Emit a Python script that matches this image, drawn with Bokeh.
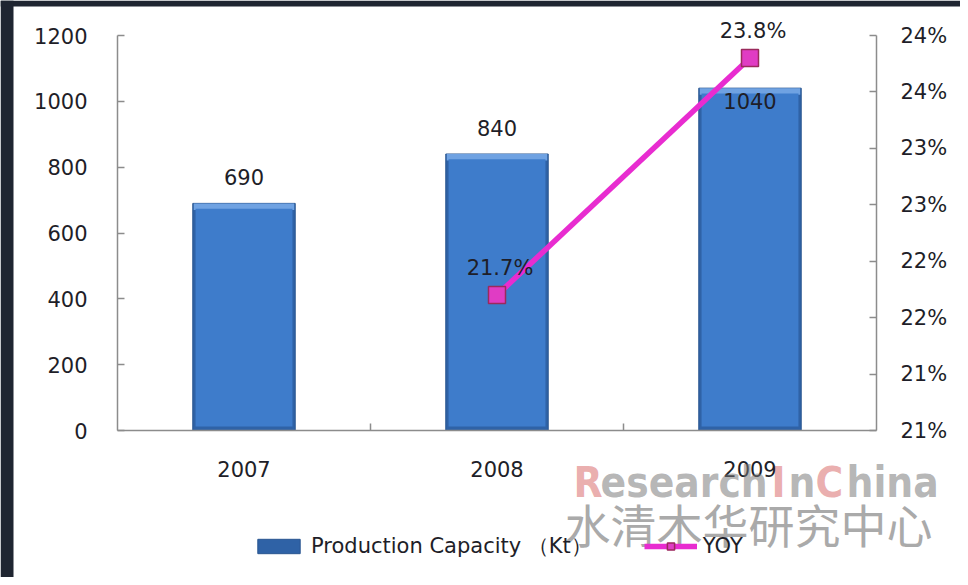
import math
from bokeh.plotting import figure
from bokeh.models import (Range1d, LinearAxis, FixedTicker, Legend, LegendItem, Label)
from bokeh.core.properties import value
from bokeh.embed import file_html
from bokeh.resources import INLINE

# ---------------- data ----------------
YEARS = ["2007", "2008", "2009"]
CAPACITY = [690, 840, 1040]                 # Production Capacity (Kt)
YOY = [float("nan"), 21.7, 23.8]            # YOY growth, %
LEFT_TICKS = [0, 200, 400, 600, 800, 1000, 1200]
RIGHT_TICK_VALUES = [20.5, 21.0, 21.5, 22.0, 22.5, 23.0, 23.5, 24.0]
RIGHT_TICK_LABELS = ["21%", "21%", "22%", "22%", "23%", "23%", "24%", "24%"]
BAR_NAME = "Production Capacity （Kt）"
LINE_NAME = "YOY"
WATERMARK = [("R", "pink"), ("esearch", "gray"), ("I", "pink"), ("n", "gray"),
             ("C", "pink"), ("hina", "gray")]
WATERMARK_CN = "水清木华研究中心"

FONT = "DejaVu Sans"
FS = "21px"
TXT = "#1e1e28"
AXC = "#8c8c8c"

# ---------------- layout (pixels) ----------------
W, H = 960, 577
FR_L, FR_R = 117, 876        # plot area left / right
AX_TOP, AX_BOT = 35, 430     # where the axes' value ranges end
L_MAX = LEFT_TICKS[-1]
R_MIN, R_MAX = RIGHT_TICK_VALUES[0], RIGHT_TICK_VALUES[-1]
N = len(YEARS)
xpx = (FR_R - FR_L) / N                       # px per category
lpx = (AX_BOT - AX_TOP) / L_MAX               # px per left unit
rpx = (AX_BOT - AX_TOP) / (R_MAX - R_MIN)     # px per right unit


def px_to_x(px):
    return -0.5 + (px - FR_L) / xpx


def py_to_y(py):
    return (AX_BOT - py) / lpx


xs = list(range(N))

p = figure(width=W, height=H, output_backend="svg", toolbar_location=None,
           x_range=Range1d(px_to_x(0), px_to_x(W)),
           y_range=Range1d(py_to_y(H), py_to_y(0)),
           min_border_left=0, min_border_right=0, min_border_top=0,
           min_border_bottom=0)
p.outline_line_color = None
p.background_fill_color = "white"
p.border_fill_color = "white"
p.xgrid.visible = False
p.ygrid.visible = False

# dark frame of the screenshot (top and left edges only)
DARK = "#1f2531"
p.quad(left=[px_to_x(0), px_to_x(0)], right=[px_to_x(W), px_to_x(13)],
       top=[py_to_y(0), py_to_y(0)], bottom=[py_to_y(6), py_to_y(H)],
       fill_color=DARK, line_color=None, level="underlay")

# ---- left axis ----
ya = p.yaxis[0]
ya.fixed_location = -0.5
ya.ticker = FixedTicker(ticks=LEFT_TICKS)
ya.bounds = (0, L_MAX)
ya.major_tick_in = 7
ya.major_tick_out = 0
ya.minor_tick_line_color = None
ya.major_label_standoff = 30

# ---- right axis ----
p.extra_y_ranges = {"yoy": Range1d(R_MIN - (H - AX_BOT) / rpx, R_MAX + AX_TOP / rpx)}
ra = LinearAxis(y_range_name="yoy",
                ticker=FixedTicker(ticks=RIGHT_TICK_VALUES),
                major_label_overrides={v: l for v, l in zip(RIGHT_TICK_VALUES, RIGHT_TICK_LABELS)})
ra.fixed_location = N - 0.5
ra.bounds = (R_MIN, R_MAX)
ra.major_tick_in = 7
ra.major_tick_out = 0
ra.minor_tick_line_color = None
ra.major_label_standoff = 24
p.add_layout(ra, "right")

# ---- x axis (drawn at value 0) ----
xa = p.xaxis[0]
xa.fixed_location = 0
xa.bounds = (-0.5, N - 0.5)
xa.ticker = FixedTicker(ticks=xs, minor_ticks=[i + 0.5 for i in xs[:-1]])
xa.major_label_overrides = {i: y for i, y in zip(xs, YEARS)}
xa.major_tick_in = 0
xa.major_tick_out = 0
xa.minor_tick_in = 7
xa.minor_tick_out = 0
xa.major_label_standoff = 30

for ax in (ya, ra, xa):
    ax.axis_line_color = AXC
    ax.axis_line_width = 1.5
    ax.major_tick_line_color = AXC
    ax.major_tick_line_width = 1.5
    ax.major_label_text_font = FONT
    ax.major_label_text_font_size = FS
    ax.major_label_text_color = TXT
xa.minor_tick_line_color = AXC
xa.minor_tick_line_width = 1.5

# ---- bars (bevelled look) ----
BW = 0.405
bars = p.vbar(x=xs, top=CAPACITY, bottom=0, width=BW,
              fill_color="#2f62a6", line_color="#2a5690", line_width=1)
p.vbar(x=xs, top=CAPACITY, bottom=[c - 20 for c in CAPACITY], width=BW - 0.008,
       fill_color="#6fa2e2", line_color=None)
p.vbar(x=xs, top=[c - 16 for c in CAPACITY], bottom=12, width=BW - 0.022,
       fill_color="#3e7ccb", line_color=None)

# bar value labels
inside = [c > 0.85 * L_MAX for c in CAPACITY]
p.text(x=xs, y=CAPACITY, text=[str(c) for c in CAPACITY],
       y_offset=[13 if f else -26 for f in inside],
       text_align="center", text_baseline="middle",
       text_font=value(FONT), text_font_size=FS, text_color=TXT)

# ---- YOY line ----
line = p.line(x=xs, y=YOY, y_range_name="yoy", line_color="#e82cd0", line_width=5.5)
marks = p.scatter(x=xs, y=YOY, y_range_name="yoy", marker="square", size=17,
                  fill_color="#e03cc4", line_color="#9a2a5c", line_width=1.5)
yoy_x = [x for x, v in zip(xs, YOY) if not math.isnan(v)]
yoy_v = [v for v in YOY if not math.isnan(v)]
p.text(x=yoy_x, y=yoy_v, text=[f"{v}%" for v in yoy_v], y_range_name="yoy",
       y_offset=-27, x_offset=3, text_align="center", text_baseline="middle",
       text_font=value(FONT), text_font_size=FS, text_color=TXT)

# ---- watermark ----
wm_left = [573, 600, 771, 788, 815, 846]
for (seg, kind), left in zip(WATERMARK, wm_left):
    p.add_layout(Label(x=px_to_x(left), y=py_to_y(482), text=seg,
                       text_font="DejaVu Sans Condensed, DejaVu Sans",
                       text_font_style="bold",
                       text_font_size="42px", text_align="left", text_baseline="alphabetic",
                       text_color="#d86a6a" if kind == "pink" else "#787878",
                       text_alpha=0.55))
p.add_layout(Label(x=px_to_x(564), y=py_to_y(522), text=WATERMARK_CN,
                   text_font="Noto Sans CJK SC", text_font_size="46px",
                   text_align="left", text_baseline="middle",
                   text_color="#aaaaaa"))

# ---- legend ----
legend = Legend(items=[LegendItem(label=BAR_NAME, renderers=[bars]),
                       LegendItem(label=LINE_NAME, renderers=[line, marks])],
                orientation="horizontal", location=(252, H - 560),
                glyph_width=53, glyph_height=18, label_standoff=6, spacing=52,
                padding=0, margin=0, background_fill_alpha=0,
                border_line_color=None,
                label_text_font=FONT, label_text_font_size=FS,
                label_text_color=TXT)
p.add_layout(legend)

open("out.html", "w").write(file_html(p, INLINE))
